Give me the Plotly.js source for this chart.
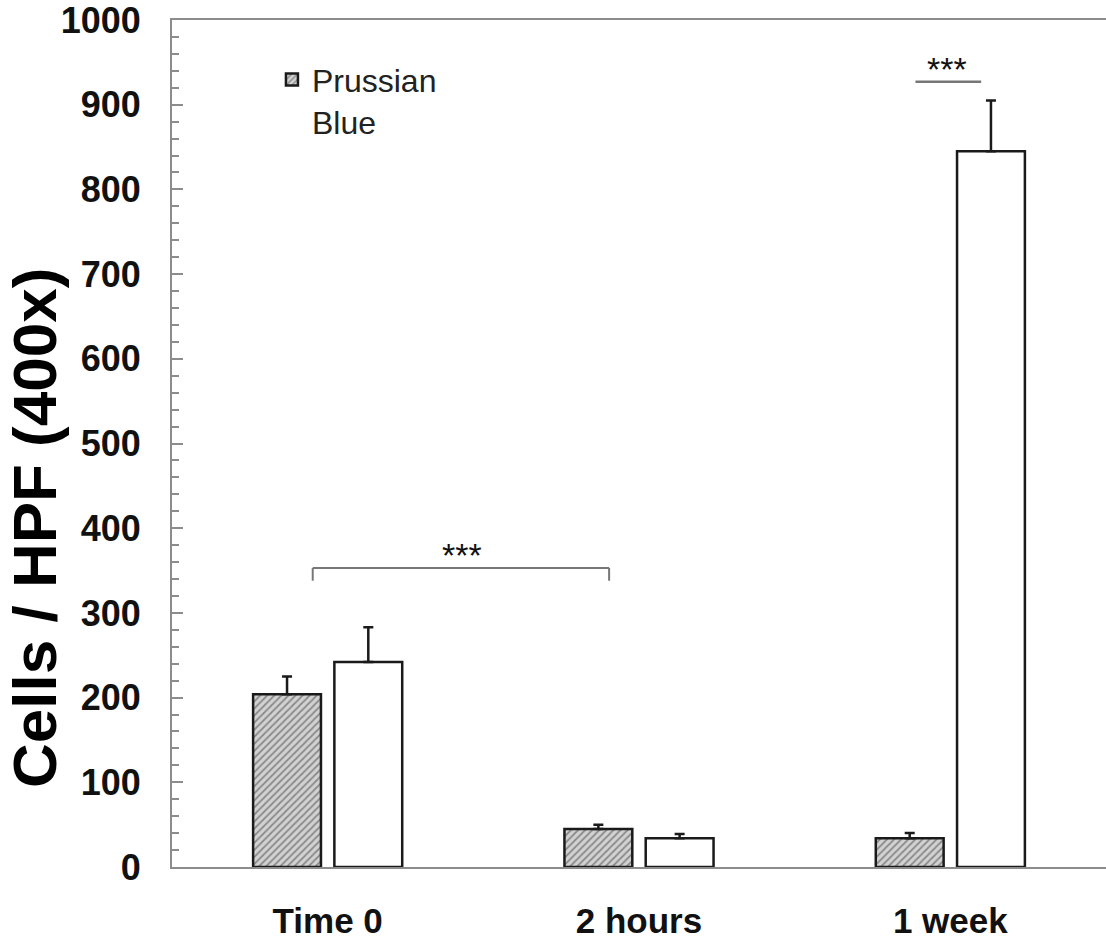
<!DOCTYPE html>
<html>
<head>
<meta charset="utf-8">
<script src="https://cdn.plot.ly/plotly-3.0.1.min.js"></script>
<style>html,body{margin:0;padding:0;background:#fff;}#chart{width:1106px;height:944px;}</style>
</head>
<body>
<div id="chart"></div>
<script>
// Data
const categories = ["Time 0", "2 hours", "1 week"];
const prussianBlue = [204, 45, 34];
const prussianBlueErr = [21, 5, 6];
const otherSeries = [242, 34, 845];
const otherSeriesErr = [41, 5, 60];
const yTickValues = [0, 100, 200, 300, 400, 500, 600, 700, 800, 900, 1000];
const sigLabel = "***";

const traceA = {
  type: 'bar', x: categories, y: prussianBlue, name: 'Prussian<br>Blue',
  marker: {color: '#d2d2d2', line: {color: '#1a1a1a', width: 2.5},
    pattern: {shape: '/', fgcolor: '#8a8a8a', bgcolor: '#d2d2d2', size: 5, solidity: 0.35}},
  error_y: {type: 'data', symmetric: false, array: prussianBlueErr, arrayminus: [0,0,0],
    color: '#1a1a1a', thickness: 2.5, width: 5},
  showlegend: true
};
const traceB = {
  type: 'bar', x: categories, y: otherSeries, name: '',
  marker: {color: '#ffffff', line: {color: '#1a1a1a', width: 2.5}},
  error_y: {type: 'data', symmetric: false, array: otherSeriesErr, arrayminus: [0,0,0],
    color: '#1a1a1a', thickness: 2.5, width: 5},
  showlegend: false
};

const layout = {
  width: 1106, height: 944,
  margin: {l: 172, r: 0, t: 20, b: 77},
  paper_bgcolor: '#ffffff', plot_bgcolor: '#ffffff',
  barmode: 'group', bargap: 0.478, bargroupgap: 0.165,
  font: {family: 'Liberation Sans, Arial, sans-serif', color: '#111'},
  xaxis: {
    type: 'category', range: [-0.5, 2.5],
    showline: true, mirror: true, linecolor: '#8c8c8c', linewidth: 2,
    ticks: '', showgrid: false, zeroline: false,
    tickfont: {size: 35, family: 'Liberation Sans, Arial, sans-serif', color: '#111', weight: 'bold'},
    ticklabelstandoff: 22, ticklabeloverflow: 'allow'
  },
  yaxis: {
    range: [0, 1000], tickvals: yTickValues,
    showline: true, linecolor: '#8c8c8c', linewidth: 2,
    ticks: 'inside', ticklen: 11, tickwidth: 2, tickcolor: '#8c8c8c',
    minor: {dtick: 20, ticks: 'inside', ticklen: 7, tickwidth: 2, tickcolor: '#8c8c8c', showgrid: false},
    showgrid: false, zeroline: false,
    tickfont: {size: 36, family: 'Liberation Sans, Arial, sans-serif', color: '#111', weight: 'bold'},
    ticklabelstandoff: 22, ticklabeloverflow: 'allow'
  },
  legend: {
    x: 0.107, y: 0.962, xanchor: 'left', yanchor: 'top', valign: 'top',
    bgcolor: 'rgba(0,0,0,0)', itemwidth: 30,
    font: {size: 32, family: 'Liberation Sans, Arial, sans-serif', color: '#222'},
    tracegroupgap: 0
  },
  shapes: [
    {type: 'line', xref: 'x', yref: 'y', x0: -0.048, x1: 0.904, y0: 353, y1: 353, line: {color: '#777', width: 2}},
    {type: 'line', xref: 'x', yref: 'y', x0: -0.048, x1: -0.048, y0: 353, y1: 338, line: {color: '#777', width: 2}},
    {type: 'line', xref: 'x', yref: 'y', x0: 0.904, x1: 0.904, y0: 353, y1: 338, line: {color: '#777', width: 2}},
    {type: 'line', xref: 'x', yref: 'y', x0: 1.888, x1: 2.099, y0: 927, y1: 927, line: {color: '#777', width: 2.5}}
  ],
  annotations: [
    {xref: 'x', yref: 'y', x: 0.43, y: 353, yanchor: 'bottom', text: sigLabel, showarrow: false,
      font: {size: 34, color: '#111'}, yshift: -8},
    {xref: 'x', yref: 'y', x: 1.99, y: 927, yanchor: 'bottom', text: sigLabel, showarrow: false,
      font: {size: 34, color: '#111'}, yshift: -8},
    {xref: 'paper', yref: 'paper', x: -0.148, y: 0.40, xanchor: 'center', yanchor: 'middle',
      text: 'Cells / HPF (400x)', textangle: -90, showarrow: false,
      font: {size: 62, family: 'Liberation Sans, Arial, sans-serif', color: '#000', weight: 'bold'}}
  ]
};

Plotly.newPlot('chart', [traceA, traceB], layout, {displayModeBar: false, staticPlot: true});
</script>
</body>
</html>
